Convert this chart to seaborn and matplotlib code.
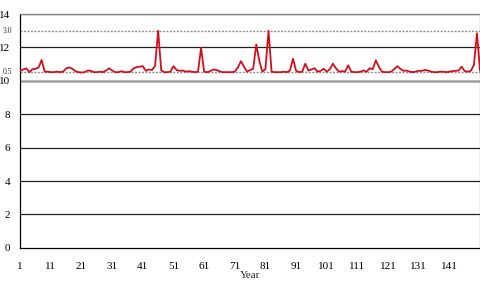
import seaborn as sns
import pandas as pd
import matplotlib.pyplot as plt
import numpy as np

sns.set_theme(style='white')
plt.rcParams['font.family'] = ['Liberation Serif', 'DejaVu Serif']

years = list(range(1, 152))
values = [
    0.62, 0.68, 0.75, 0.52, 0.70, 0.72, 0.80, 1.25, 0.55, 0.55,
    0.52, 0.52, 0.55, 0.52, 0.55, 0.75, 0.80, 0.72, 0.58, 0.52,
    0.50, 0.52, 0.62, 0.60, 0.52, 0.52, 0.55, 0.52, 0.62, 0.75,
    0.62, 0.52, 0.52, 0.58, 0.52, 0.52, 0.55, 0.75, 0.82, 0.85,
    0.88, 0.60, 0.68, 0.65, 0.90, 3.00, 0.62, 0.52, 0.52, 0.55,
    0.88, 0.65, 0.60, 0.62, 0.55, 0.58, 0.55, 0.52, 0.55, 1.97,
    0.55, 0.52, 0.58, 0.68, 0.65, 0.58, 0.52, 0.52, 0.52, 0.52,
    0.55, 0.80, 1.18, 0.85, 0.55, 0.65, 0.72, 2.18, 1.20, 0.55,
    0.70, 3.00, 0.55, 0.52, 0.52, 0.52, 0.55, 0.52, 0.62, 1.33,
    0.60, 0.52, 0.55, 1.03, 0.62, 0.68, 0.76, 0.55, 0.60, 0.72,
    0.55, 0.70, 1.03, 0.75, 0.55, 0.58, 0.55, 0.93, 0.55, 0.52,
    0.52, 0.55, 0.62, 0.55, 0.75, 0.70, 1.23, 0.85, 0.55, 0.52,
    0.52, 0.55, 0.70, 0.88, 0.72, 0.60, 0.62, 0.55, 0.52, 0.55,
    0.60, 0.60, 0.65, 0.62, 0.55, 0.52, 0.52, 0.55, 0.55, 0.52,
    0.55, 0.58, 0.60, 0.62, 0.85, 0.58, 0.55, 0.60, 0.95, 2.85,
    0.60,
]
x_ticks = list(range(1, 142, 10))
y_ticks = [0, 2, 4, 6, 8, 10, 12, 14]
inset_ticks = [0.5, 3.0]

# the series is drawn in a band sitting on top of the 0-14 scale
offset = 10

df = pd.DataFrame({'Year': years, 'value': values})
df['shown'] = df['value'] + offset

fig = plt.figure(figsize=(4.81, 2.81), dpi=100)
ax = fig.add_axes([0.042, 0.118, 0.956, 0.832])

for y in y_ticks[1:]:
    if y == offset:
        ax.axhline(y, color='#a0a0a0', lw=1.8, zorder=1)
    elif y == 14:
        ax.axhline(y, color='#808080', lw=1.0, zorder=1)
    else:
        ax.axhline(y, color='#202020', lw=0.9, zorder=1)
for t in inset_ticks:
    ax.axhline(t + offset, color='#909090', lw=1.0, ls=(0, (1.5, 1.0)), zorder=1)
    ax.text(-0.018, t + offset, f'{t:.1f}', transform=ax.get_yaxis_transform(),
            ha='right', va='center', fontsize=5.5, color='#333333')

sns.lineplot(data=df, x='Year', y='shown', color='#d2101c', lw=1.3, ax=ax, zorder=3)

ax.set_xlim(1, 151)
ax.set_ylim(0, 14)
ax.set_xticks(x_ticks)
ax.set_yticks(y_ticks)
ax.set_yticklabels([str(v) for v in y_ticks])
ax.tick_params(axis='both', labelsize=8, colors='black', length=3, width=0.8,
               direction='out')
ax.tick_params(axis='x', pad=7)
ax.tick_params(axis='y', pad=4)
ax.set_xlabel('Year', fontsize=8, labelpad=0)
ax.set_ylabel('')

for side in ['left', 'bottom']:
    ax.spines[side].set_color('black')
    ax.spines[side].set_linewidth(0.9)
for side in ['top', 'right']:
    ax.spines[side].set_color('#808080')
    ax.spines[side].set_linewidth(0.9)

fig.savefig('out.png', dpi=100)
